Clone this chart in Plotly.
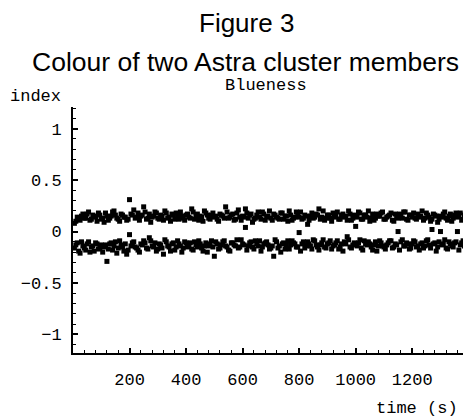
import plotly.graph_objects as go

# ---- data ----
# two interleaved sampling grids (seconds)
TIME_A = list(range(10, 1401, 10))
TIME_B = list(range(5, 1400, 10))

STAR_UPPER_A = [
    0.10, 0.12, 0.15, 0.13, 0.17, 0.11, 0.16, 0.14, 0.18, 0.12,
    0.09, 0.15, 0.13, 0.19, 0.16, 0.12, 0.17, 0.14, 0.11, 0.31,
    0.16, 0.13, 0.18, 0.15, 0.24, 0.12, 0.17, 0.14, 0.19, 0.13,
    0.16, 0.11, 0.18, 0.14, 0.17, 0.12, 0.15, 0.19, 0.13, 0.16,
    0.14, 0.22, 0.12, 0.17, 0.15, 0.10, 0.18, 0.13, 0.16, 0.14,
    0.12, 0.17, 0.15, 0.24, 0.13, 0.16, 0.11, 0.18, 0.14, 0.15,
    0.22, 0.13, 0.17, 0.12, 0.16, 0.14, 0.19, 0.11, 0.15, 0.13,
    0.17, 0.14, 0.12, 0.18, 0.15, 0.10, 0.16, 0.13, 0.19, 0.14,
    0.12, 0.16, 0.07, 0.15, 0.13, 0.17, 0.22, 0.14, 0.11, 0.16,
    0.13, 0.18, 0.15, 0.12, 0.16, 0.14, 0.11, 0.17, 0.13, 0.15,
    0.19, 0.12, 0.16, 0.14, 0.10, 0.17, 0.13, 0.15, 0.18, 0.12,
    0.14, 0.16, 0.11, 0.17, 0.13, 0.15, 0.19, 0.12, 0.16, 0.14,
    0.13, 0.17, 0.15, 0.11, 0.18, 0.14, 0.12, 0.16, 0.09, 0.15,
    0.17, 0.13, 0.15, 0.10, 0.16, 0.14, 0.18, 0.12, 0.15, 0.13,
]
STAR_UPPER_B = [
    0.08, 0.14, 0.11, 0.17, 0.13, 0.19, 0.12, 0.15, 0.10, 0.16,
    0.13, 0.18, 0.11, 0.15, 0.20, 0.13, 0.10, 0.16, 0.14, 0.12,
    0.17, 0.21, 0.14, 0.11, 0.16, 0.19, 0.13, 0.09, 0.15, 0.18,
    0.12, 0.15, 0.20, 0.13, 0.10, 0.16, 0.18, 0.12, 0.15, 0.11,
    0.17, 0.13, 0.19, 0.15, 0.11, 0.14, 0.20, 0.16, 0.12, 0.18,
    0.15, 0.10, 0.16, 0.13, 0.19, 0.14, 0.17, 0.12, 0.21, 0.11,
    0.14, 0.18, 0.16, 0.09, 0.13, 0.19, 0.12, 0.17, 0.14, 0.20,
    0.11, 0.16, 0.13, 0.18, 0.12, 0.15, 0.20, 0.11, 0.14, 0.17,
    0.19, 0.13, 0.15, 0.11, 0.18, 0.14, 0.16, 0.12, 0.20, 0.13,
    0.16, 0.10, 0.14, 0.19, 0.12, 0.17, 0.15, 0.20, 0.11, 0.16,
    0.14, 0.18, 0.12, 0.16, 0.20, 0.13, 0.11, 0.17, 0.15, 0.19,
    0.12, 0.15, 0.18, 0.10, 0.14, 0.17, 0.13, 0.19, 0.11, 0.16,
    0.18, 0.12, 0.14, 0.20, 0.13, 0.16, 0.10, 0.17, 0.15, 0.12,
    0.14, 0.19, 0.11, 0.17, 0.13, 0.18, 0.15, 0.11, 0.16, 0.19,
]

STAR_LOWER_A = [
    -0.13, -0.19, -0.10, -0.16, -0.12, -0.20, -0.14, -0.11, -0.17, -0.13,
    -0.15, -0.29, -0.12, -0.18, -0.10, -0.16, -0.13, -0.19, -0.22, -0.03,
    -0.11, -0.15, -0.18, -0.12, -0.09, -0.16, -0.06, -0.14, -0.11, -0.17,
    -0.13, -0.22, -0.10, -0.15, -0.12, -0.18, -0.09, -0.14, -0.16, -0.11,
    -0.13, -0.17, -0.10, -0.15, -0.12, -0.19, -0.11, -0.14, -0.09, -0.24,
    -0.12, -0.16, -0.10, -0.14, -0.18, -0.11, -0.13, -0.08, -0.15, -0.12,
    0.04, -0.14, -0.10, -0.17, -0.12, -0.09, -0.15, -0.11, -0.13, -0.16,
    -0.24, -0.10, -0.14, -0.12, -0.17, -0.09, -0.13, -0.11, -0.15, -0.01,
    -0.12, -0.16, -0.10, -0.14, -0.08, -0.13, -0.18, -0.11, -0.15, -0.12,
    -0.09, -0.14, -0.11, -0.17, -0.12, -0.10, -0.05, -0.15, -0.13, 0.05,
    -0.11, -0.16, -0.09, -0.13, -0.12, -0.18, -0.10, -0.14, -0.11, -0.15,
    -0.13, -0.09, -0.16, -0.12, 0.00, -0.10, -0.14, -0.11, -0.17, -0.12,
    -0.10, -0.14, -0.12, -0.16, -0.09, -0.13, 0.02, -0.11, -0.15, 0.00,
    -0.12, -0.16, -0.10, -0.14, -0.11, 0.00, -0.13, -0.09, -0.15, -0.22,
]
STAR_LOWER_B = [
    -0.16, -0.11, -0.21, -0.14, -0.18, -0.10, -0.15, -0.19, -0.12, -0.16,
    -0.20, -0.13, -0.17, -0.11, -0.14, -0.21, -0.09, -0.15, -0.12, -0.18,
    -0.14, -0.10, -0.16, -0.20, -0.13, -0.11, -0.17, -0.09, -0.15, -0.19,
    -0.12, -0.16, -0.08, -0.14, -0.19, -0.11, -0.15, -0.12, -0.20, -0.10,
    -0.15, -0.11, -0.18, -0.13, -0.09, -0.16, -0.14, -0.20, -0.12, -0.15,
    -0.10, -0.17, -0.13, -0.09, -0.15, -0.19, -0.11, -0.14, -0.16, -0.08,
    -0.13, -0.18, -0.11, -0.15, -0.09, -0.14, -0.19, -0.12, -0.10, -0.17,
    -0.14, -0.08, -0.16, -0.20, -0.11, -0.13, -0.17, -0.09, -0.12, -0.15,
    -0.19, -0.10, -0.14, -0.12, -0.17, -0.09, -0.15, -0.13, -0.08, -0.16,
    -0.11, -0.17, -0.13, -0.09, -0.15, -0.19, -0.12, -0.08, -0.16, -0.11,
    -0.14, -0.08, -0.18, -0.12, -0.10, -0.15, -0.13, -0.19, -0.09, -0.14,
    -0.17, -0.11, -0.09, -0.15, -0.13, -0.18, -0.08, -0.14, -0.12, -0.16,
    -0.09, -0.15, -0.18, -0.11, -0.14, -0.08, -0.16, -0.12, -0.19, -0.10,
    -0.13, -0.08, -0.17, -0.12, -0.15, -0.10, -0.18, -0.11, -0.14, -0.16,
]

X_TICKS = [200, 400, 600, 800, 1000, 1200]
X_TICK_LABELS = ["200", "400", "600", "800", "1000", "1200"]
Y_TICKS = [-1, -0.5, 0, 0.5, 1]
Y_TICK_LABELS = ["\u22121", "\u22120.5", "0", "0.5", "1"]

TITLE = "Figure 3"
SUBTITLE = "Colour of two Astra cluster members"
PANEL = "Blueness"
Y_LABEL = "index"
X_LABEL = "time (s)"

# ---- layout geometry (page body has an 8px offset) ----
OFF = 8
W, H = 471 - OFF, 420 - OFF
ML, MR, MT, MB = 73 - OFF, 0, 107 - OFF, 420 - 353
PW, PH = W - ML - MR, H - MT - MB


def px(x, y):
    """screen pixel -> paper coords"""
    x, y = x - OFF, y - OFF
    return (x - ML) / PW, (H - MB - y) / PH


MONO = "Liberation Mono, Courier New, monospace"
SANS = "Liberation Sans, Arial, Helvetica, sans-serif"

fig = go.Figure()
for t, vals in ((TIME_A, STAR_UPPER_A), (TIME_B, STAR_UPPER_B),
                (TIME_A, STAR_LOWER_A), (TIME_B, STAR_LOWER_B)):
    fig.add_trace(go.Scatter(
        x=t, y=vals, mode="markers",
        marker=dict(symbol="square", size=5, color="black", line=dict(width=0)),
        showlegend=False, hoverinfo="x+y",
    ))

axis_common = dict(
    showline=True, linecolor="black", linewidth=2, showgrid=False, zeroline=False,
    ticks="inside", tickcolor="black", tickwidth=1.5,
    tickfont=dict(family=MONO, size=17, color="black"),
)

fig.update_xaxes(
    range=[0, 1408], tickmode="array", tickvals=X_TICKS, ticktext=X_TICK_LABELS,
    ticklen=5, ticklabelstandoff=10,
    minor=dict(dtick=40, tick0=0, ticks="inside", ticklen=3, tickcolor="black", tickwidth=1.2),
    **axis_common,
)
fig.update_yaxes(
    range=[-1.18, 1.21], tickmode="array", tickvals=Y_TICKS, ticktext=Y_TICK_LABELS,
    ticklen=5, ticklabelstandoff=6,
    minor=dict(dtick=0.1, tick0=0, ticks="inside", ticklen=3, tickcolor="black", tickwidth=1.2),
    **axis_common,
)

annots = [
    (TITLE, 246, 23, SANS, 26),
    (SUBTITLE, 245, 62, SANS, 26.5),
    (PANEL, 266, 85, MONO, 17),
    (Y_LABEL, 35, 97, MONO, 17),
    (X_LABEL, 417, 408, MONO, 17),
]
for text, x, y, fam, size in annots:
    ax_, ay_ = px(x, y)
    fig.add_annotation(
        text=text, x=ax_, y=ay_, xref="paper", yref="paper",
        xanchor="center", yanchor="middle", showarrow=False, borderpad=0,
        font=dict(family=fam, size=size, color="black"),
    )

fig.update_layout(
    width=W, height=H, margin=dict(l=ML, r=MR, t=MT, b=MB),
    paper_bgcolor="white", plot_bgcolor="white",
)

fig.write_html("out.html")
